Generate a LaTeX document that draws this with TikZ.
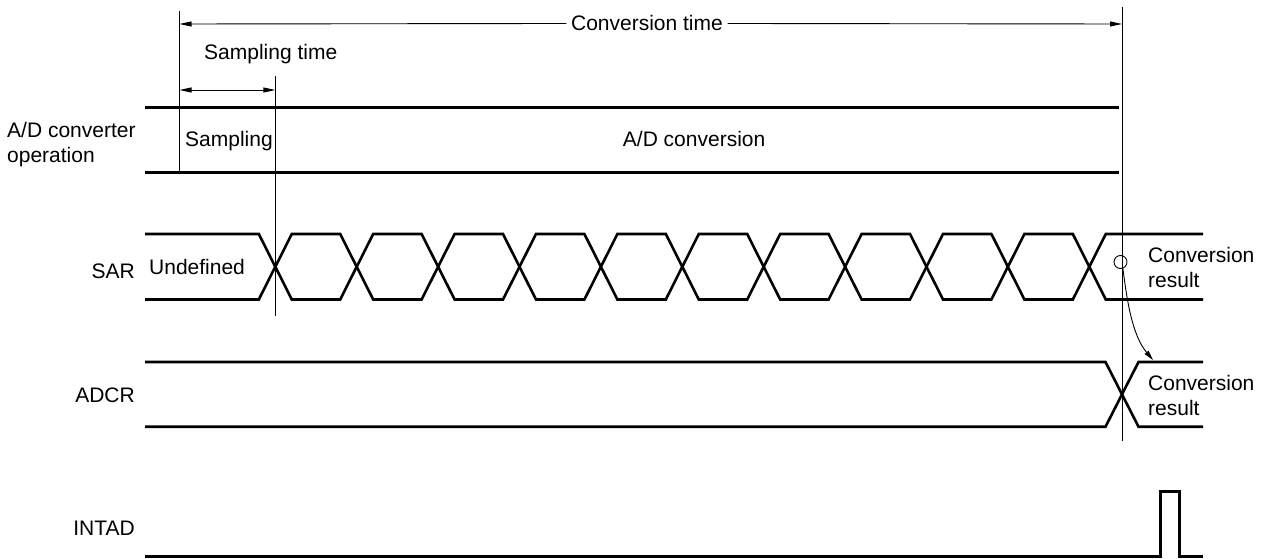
\documentclass[tikz,border=0pt]{standalone}
\usepackage{fontspec}
\setmainfont{Liberation Sans}
\usetikzlibrary{arrows.meta}
\begin{document}
\begin{tikzpicture}[x=1pt,y=-1pt,
  sig/.style={line width=2.6pt,line join=miter},
  thinline/.style={line width=0.9pt},
  lbl/.style={inner sep=0pt,font=\fontsize{21}{25}\selectfont},
  dimarrow/.style={line width=0.9pt,-{Triangle[length=12pt,width=5pt]}},
  dimboth/.style={line width=0.9pt,{Triangle[length=12pt,width=5pt]}-{Triangle[length=12pt,width=5pt]}},
  curvearrow/.style={line width=0.9pt,-{Triangle[length=10pt,width=5pt]}}]
\useasboundingbox (0,0) rectangle (1264,559);
% reference coordinates
\coordinate (vL) at (179.5,24);
\coordinate (vR) at (1122,24);
\coordinate (sL) at (179.5,90);
\coordinate (sR) at (275.3,90);
% vertical guide lines
\draw[thinline] (179.5,11) -- (179.5,172.3);
\draw[thinline] (275.3,76) -- (275.3,316);
\draw[thinline] (1122,7) -- (1122,441);
% conversion time
\node[lbl,anchor=base,inner xsep=4.5pt] (ct) at (647,31) {Conversion time};
\draw[dimarrow] (ct.west) -- (vL);
\draw[dimarrow] (ct.east) -- (vR);
% sampling time
\node[lbl,anchor=base west] (st) at (204,60) {Sampling time};
\draw[dimboth] (sL) -- (sR);
% A/D converter operation
\node[lbl,anchor=base west,align=left] (opl) at (7,162.3) {A/D converter\\operation};
\draw[sig] (145,107.7) -- (1119,107.7);
\draw[sig] (145,172.3) -- (1119,172.3);
\node[lbl,anchor=base west] (smp) at (185,147) {Sampling};
\node[lbl,anchor=base west] (adc) at (622.7,147) {A/D conversion};
% SAR
\node[lbl,anchor=base east] (sar) at (135,278) {SAR};
\node[lbl,anchor=base west] (und) at (149,274) {Undefined};
\draw[sig] (145,234)
  \foreach \k [evaluate=\k as \xc using 275.3+81.4*\k,
               evaluate=\k as \ya using 234+65.5*(\k-2*int(\k/2)),
               evaluate=\k as \yb using 299.5-65.5*(\k-2*int(\k/2))] in {0,...,10}
  { -- (\xc-16.5,\ya) -- (\xc+16.5,\yb) } -- (1203,299.5);
\draw[sig] (145,299.5)
  \foreach \k [evaluate=\k as \xc using 275.3+81.4*\k,
               evaluate=\k as \ya using 299.5-65.5*(\k-2*int(\k/2)),
               evaluate=\k as \yb using 234+65.5*(\k-2*int(\k/2))] in {0,...,10}
  { -- (\xc-16.5,\ya) -- (\xc+16.5,\yb) } -- (1203,234);
\node[lbl,anchor=base west,align=left] (sarres) at (1148,287.3) {Conversion\\result};
\node[draw,thinline,circle,minimum size=13pt,inner sep=0pt] (circ) at (1120.5,262) {};
% ADCR
\node[lbl,anchor=base east] (adcr) at (135,402.3) {ADCR};
\draw[sig] (145,362) -- (1105.5,362) -- (1138.5,426.7) -- (1203,426.7);
\draw[sig] (145,426.7) -- (1105.5,426.7) -- (1138.5,362) -- (1203,362);
\node[lbl,anchor=base west,align=left] (adcrres) at (1148,415) {Conversion\\result};
\coordinate (tgt) at (1153,360);
\draw[curvearrow] (circ.-70) .. controls (1127,300) and (1132,335) .. (tgt);
% INTAD
\node[lbl,anchor=base east] (intad) at (135,535) {INTAD};
\draw[sig] (145,556.7) -- (1160.7,556.7) -- (1160.7,491.7) -- (1179.3,491.7) -- (1179.3,556.7) -- (1203,556.7);
\end{tikzpicture}
\end{document}
